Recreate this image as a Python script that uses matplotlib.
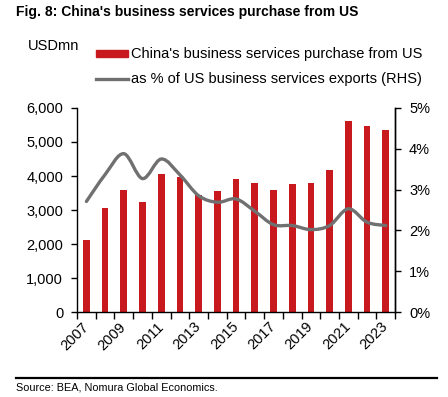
import numpy as np
import matplotlib
matplotlib.use("Agg")
import matplotlib.pyplot as plt
from matplotlib.path import Path
from matplotlib.patches import PathPatch, Rectangle
from matplotlib.lines import Line2D

plt.rcParams['font.family'] = ['Liberation Sans', 'DejaVu Sans']

# data
years = list(range(2007, 2024))
purchase_usdmn = [2130, 3060, 3600, 3240, 4070, 3970, 3440, 3560, 3900, 3790,
                  3580, 3760, 3790, 4190, 5610, 5480, 5340]
share_pct = [2.71, 3.37, 3.88, 3.27, 3.75, 3.36, 2.85, 2.69, 2.77, 2.47,
             2.14, 2.12, 2.02, 2.12, 2.53, 2.20, 2.12]
year_labels = [str(y) if (y - 2007) % 2 == 0 else "" for y in years]

bar_red = "#C8191F"
line_grey = "#707070"

fig = plt.figure(figsize=(4.48, 3.97), dpi=100)
ax = fig.add_axes([0.172, 0.214, 0.710, 0.514])
ax2 = ax.twinx()

x = np.arange(len(years))
ax.bar(x, purchase_usdmn, width=0.36, color=bar_red, zorder=2)
ax.set_xlim(-0.5, len(years) - 0.5)
ax.set_ylim(0, 6000)
ax.set_yticks(range(0, 6001, 1000))
ax.set_yticklabels([f"{v:,}" for v in range(0, 6001, 1000)], fontsize=10.5)

# excel-like smoothed line: catmull-rom segments as cubic beziers
pts = np.column_stack([x, share_pct]).astype(float)
verts = [tuple(pts[0])]
codes = [Path.MOVETO]
for i in range(len(pts) - 1):
    p0 = pts[i - 1] if i > 0 else pts[i]
    p1, p2 = pts[i], pts[i + 1]
    p3 = pts[i + 2] if i + 2 < len(pts) else pts[i + 1]
    c1 = p1 + (p2 - p0) / 6.0
    c2 = p2 - (p3 - p1) / 6.0
    verts += [tuple(c1), tuple(c2), tuple(p2)]
    codes += [Path.CURVE4] * 3
ax2.add_patch(PathPatch(Path(verts, codes), fill=False, edgecolor=line_grey,
                        lw=2.4, capstyle='round', zorder=3))
ax2.set_ylim(0, 5)
ax2.set_yticks(range(0, 6))
ax2.set_yticklabels([f"{v}%" for v in range(0, 6)], fontsize=10.5)

# ticks between categories, labels under bars
ax.set_xticks(x)
ax.set_xticklabels(year_labels, rotation=45, ha='right', va='center',
                   rotation_mode='anchor', fontsize=10.5)
ax.tick_params(axis='x', length=0, pad=9)
ax.set_xticks(np.arange(-0.5, len(years)), minor=True)
ax.tick_params(axis='x', which='minor', length=5, direction='out', width=1)
ax.tick_params(axis='y', length=4, width=1, pad=6)
ax2.tick_params(axis='y', length=4, width=1, pad=6)

for a in (ax, ax2):
    a.spines['top'].set_visible(False)
    for s in ('left', 'right', 'bottom'):
        a.spines[s].set_linewidth(1)
ax2.spines['left'].set_visible(False)
ax2.spines['bottom'].set_visible(False)

# title, unit and hand-placed legend
fig.text(0.036, 0.988, "Fig. 8: China's business services purchase from US",
         fontsize=10, fontweight='bold', va='top')
fig.text(0.062, 0.885, "USDmn", fontsize=10.5, va='center')
fig.patches.append(Rectangle((0.214, 0.857), 0.072, 0.016, color=bar_red,
                             transform=fig.transFigure, figure=fig))
fig.text(0.293, 0.865, "China's business services purchase from US",
         fontsize=10.5, va='center')
fig.lines.append(Line2D([0.214, 0.286], [0.801, 0.801], color=line_grey, lw=2.4,
                        transform=fig.transFigure, figure=fig))
fig.text(0.293, 0.801, "as % of US business services exports (RHS)",
         fontsize=10.5, va='center')

# source footer
fig.lines.append(Line2D([0.036, 0.976], [0.048, 0.048], color='black', lw=1.6,
                        transform=fig.transFigure, figure=fig))
fig.text(0.036, 0.023, "Source: BEA, Nomura Global Economics.",
         fontsize=7.8, va='center')

fig.savefig("out.png", dpi=100)
